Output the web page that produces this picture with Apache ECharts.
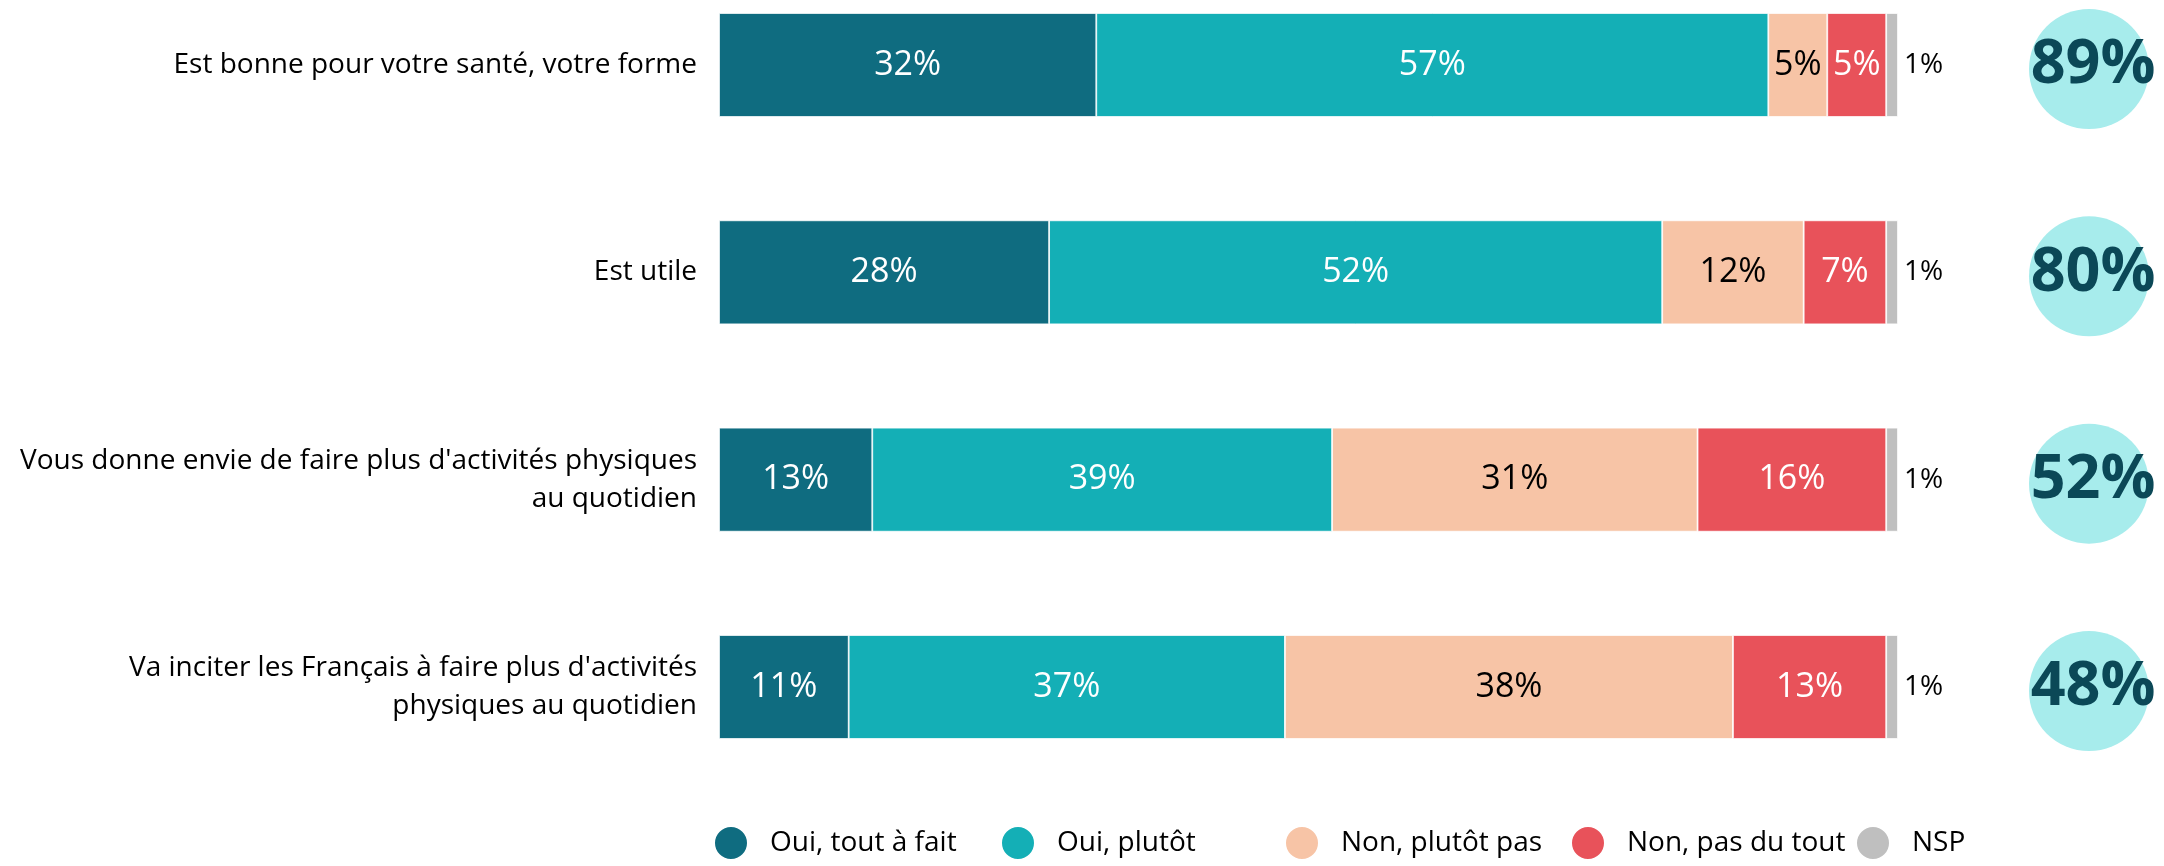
<!DOCTYPE html>
<html>
<head>
<meta charset="utf-8">
<script src="https://cdn.jsdelivr.net/npm/echarts@6/dist/echarts.min.js"></script>
<style>
html,body{margin:0;padding:0;background:#fff;}
#chart{width:2164px;height:866px;}
</style>
</head>
<body>
<div id="chart"></div>
<script>
const categories = [
  "Est bonne pour votre santé, votre forme",
  "Est utile",
  "Vous donne envie de faire plus d'activités physiques\nau quotidien",
  "Va inciter les Français à faire plus d'activités\nphysiques au quotidien"
];
const seriesNames = ["Oui, tout à fait", "Oui, plutôt", "Non, plutôt pas", "Non, pas du tout", "NSP"];
const ouiToutAFait = [32, 28, 13, 11];
const ouiPlutot = [57, 52, 39, 37];
const nonPlutotPas = [5, 12, 31, 38];
const nonPasDuTout = [5, 7, 16, 13];
const nsp = [1, 1, 1, 1];
const totalOui = [89, 80, 52, 48];
const totalLabel = ["Total Oui"];

const colors = ["#0f6c80", "#14afb6", "#f7c4a6", "#e8525a", "#bfbfbf"];
const labelColors = ["#ffffff", "#ffffff", "#000000", "#ffffff", "#000000"];
const FONT = "Open Sans";

const chart = echarts.init(document.getElementById('chart'), null, {renderer: 'canvas'});

const values = [ouiToutAFait, ouiPlutot, nonPlutotPas, nonPasDuTout, nsp];
const barSeries = values.map((arr, i) => ({
  name: seriesNames[i],
  type: 'bar',
  stack: 'total',
  xAxisIndex: 0,
  yAxisIndex: 0,
  barWidth: 104,
  clip: false,
  data: arr,
  itemStyle: {color: colors[i], borderColor: '#ffffff', borderWidth: 0.8},
  label: i === 4 ? {
    show: true, position: 'right', distance: 6, formatter: '{c}%',
    fontFamily: FONT, fontSize: 28, color: '#000'
  } : {
    show: true, position: 'inside', formatter: '{c}%',
    fontFamily: FONT, fontSize: 34, color: labelColors[i]
  },
  emphasis: {disabled: true}
}));

const legendCenters = [731, 1018, 1302, 1588, 1873];
const legends = seriesNames.map((n, i) => ({
  data: [n],
  icon: 'circle',
  itemWidth: 68,
  itemHeight: 34,
  left: legendCenters[i] - 18,
  top: 825,
  padding: 0,
  selectedMode: false,
  textStyle: {fontFamily: FONT, fontSize: 28, color: '#000'}
}));

chart.setOption({
  animation: false,
  backgroundColor: '#ffffff',
  legend: legends,
  grid: [
    {left: 719, width: 1179, top: 65, height: 622},
    {left: 2029, width: 120, top: 65, height: 622}
  ],
  xAxis: [
    {type: 'value', gridIndex: 0, min: 0, max: 100, show: false},
    {type: 'category', gridIndex: 1, data: totalLabel, show: false}
  ],
  yAxis: [
    {
      type: 'category', gridIndex: 0, data: categories, inverse: true, boundaryGap: false,
      axisLine: {show: false}, axisTick: {show: false}, splitLine: {show: false},
      axisLabel: {fontFamily: FONT, fontSize: 28, color: '#000', margin: 22, lineHeight: 38, align: 'right'}
    },
    {
      type: 'category', gridIndex: 1, data: categories, inverse: true, boundaryGap: false, show: false
    }
  ],
  series: barSeries.concat([{
    type: 'scatter',
    xAxisIndex: 1,
    yAxisIndex: 1,
    symbol: 'circle',
    symbolSize: 120,
    symbolOffset: [0, 4],
    clip: false,
    data: totalOui.map((v, i) => [totalLabel[0], categories[i], v]),
    itemStyle: {color: '#a7ecec', opacity: 1},
    label: {
      show: true, position: 'inside',
      formatter: p => p.value[2] + '%',
      fontFamily: FONT, fontWeight: 'bold', fontSize: 61, color: '#0b4857',
      offset: [4, -3]
    },
    emphasis: {disabled: true}
  }])
});
</script>
</body>
</html>
